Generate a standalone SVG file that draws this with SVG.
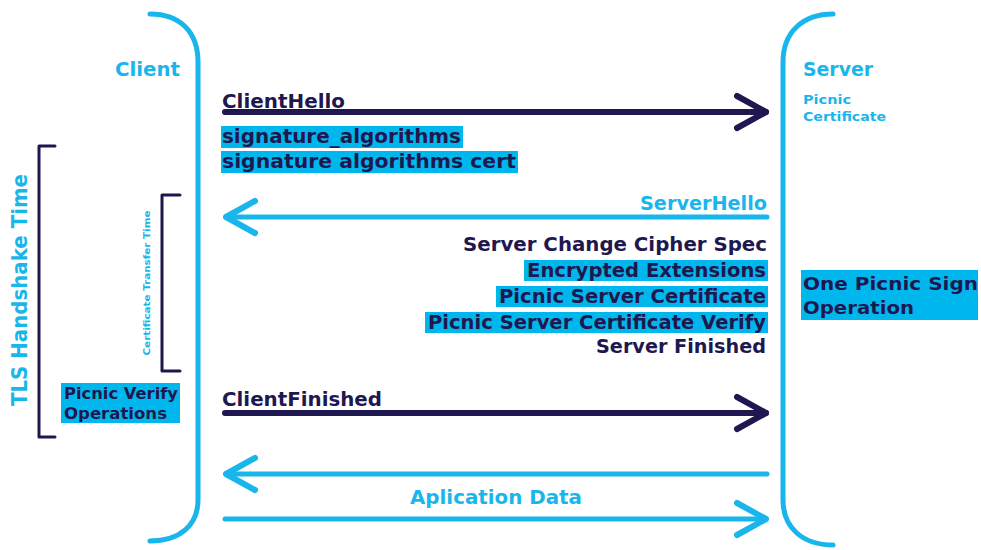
<svg xmlns="http://www.w3.org/2000/svg" width="981" height="550" viewBox="0 0 981 550">
<style>
  .t{font-family:"DejaVu Sans","Liberation Sans",sans-serif;font-weight:bold}
  .navy{fill:#1f174f}
  .blue{fill:#19b6ec}
  .hl{fill:#00b7ed}
  .ln{fill:none;stroke-linecap:round;stroke-linejoin:round}
  .nav{stroke:#1f174f}
  .blu{stroke:#19b6ec}
</style>
<defs>
  <marker id="ahN" markerUnits="userSpaceOnUse" viewBox="-36 -22 42 44" markerWidth="42" markerHeight="44" refX="0" refY="0" orient="auto">
    <path d="M-29,-16 L0,0 L-29,16" fill="none" stroke="#1f174f" stroke-width="6" stroke-linecap="round" stroke-linejoin="round"/>
  </marker>
  <marker id="ahB" markerUnits="userSpaceOnUse" viewBox="-36 -22 42 44" markerWidth="42" markerHeight="44" refX="0" refY="0" orient="auto">
    <path d="M-29,-16 L0,0 L-29,16" fill="none" stroke="#19b6ec" stroke-width="6" stroke-linecap="round" stroke-linejoin="round"/>
  </marker>
</defs>
<rect width="981" height="550" fill="#ffffff"/>

<g id="client">
  <path class="ln blu" stroke-width="5" d="M150,14 C180,14 198,32 198,62 V500 C198,525 180,541 150,541"/>
  <text class="t blue" x="115" y="76" font-size="19" textLength="65" lengthAdjust="spacingAndGlyphs">Client</text>
</g>

<g id="server">
  <path class="ln blu" stroke-width="5" d="M833,14 C803,14 783,32 783,62 V500 C783,528 803,545 833,545"/>
  <text class="t blue" x="803" y="76" font-size="19" textLength="70" lengthAdjust="spacingAndGlyphs">Server</text>
  <text class="t blue" x="803" y="104" font-size="12" textLength="48" lengthAdjust="spacingAndGlyphs">Picnic</text>
  <text class="t blue" x="803" y="121" font-size="12" textLength="83" lengthAdjust="spacingAndGlyphs">Certificate</text>
</g>

<g id="sign-op">
  <rect class="hl" x="801" y="270" width="177" height="50"/>
  <text class="t navy" x="803" y="290" font-size="18" textLength="175" lengthAdjust="spacingAndGlyphs">One Picnic Sign</text>
  <text class="t navy" x="803" y="314" font-size="18" textLength="111" lengthAdjust="spacingAndGlyphs">Operation</text>
</g>

<g id="tls-handshake-time">
  <path class="ln nav" stroke-width="3" stroke-linecap="butt" d="M55,146 H39 V437 H55"/>
  <text class="t blue" transform="translate(27,290) rotate(-90)" text-anchor="middle" font-size="21" textLength="232" lengthAdjust="spacingAndGlyphs">TLS Handshake Time</text>
</g>

<g id="certificate-transfer-time">
  <path class="ln nav" stroke-width="3" stroke-linecap="butt" d="M180,195 H162 V371 H180"/>
  <text class="t blue" transform="translate(150,283) rotate(-90)" text-anchor="middle" font-size="8.5" textLength="145" lengthAdjust="spacingAndGlyphs">Certificate Transfer Time</text>
</g>

<g id="verify-op">
  <rect class="hl" x="61" y="383" width="119" height="40"/>
  <text class="t navy" x="64" y="399" font-size="16" textLength="114" lengthAdjust="spacingAndGlyphs">Picnic Verify</text>
  <text class="t navy" x="64" y="419" font-size="16" textLength="103" lengthAdjust="spacingAndGlyphs">Operations</text>
</g>

<g id="client-hello">
  <text class="t navy" x="222" y="108" font-size="19" textLength="123" lengthAdjust="spacingAndGlyphs">ClientHello</text>
  <rect class="hl" x="221" y="126" width="242" height="22"/>
  <rect class="hl" x="221" y="151" width="297" height="22"/>
  <text class="t navy" x="222" y="143" font-size="19" textLength="239" lengthAdjust="spacingAndGlyphs">signature_algorithms</text>
  <text class="t navy" x="222" y="168" font-size="19" textLength="294" lengthAdjust="spacingAndGlyphs">signature algorithms cert</text>
</g>

<g id="server-hello">
  <text class="t blue" x="767" y="210" font-size="19" text-anchor="end" textLength="127" lengthAdjust="spacingAndGlyphs">ServerHello</text>
  <rect class="hl" x="524" y="260" width="244" height="21"/>
  <rect class="hl" x="496" y="286" width="272" height="21"/>
  <rect class="hl" x="425" y="312" width="343" height="21"/>
  <text class="t navy" x="767" y="251" font-size="19" text-anchor="end" textLength="304" lengthAdjust="spacingAndGlyphs">Server Change Cipher Spec</text>
  <text class="t navy" x="766" y="277" font-size="19" text-anchor="end" textLength="239" lengthAdjust="spacingAndGlyphs">Encrypted Extensions</text>
  <text class="t navy" x="766" y="303" font-size="19" text-anchor="end" textLength="267" lengthAdjust="spacingAndGlyphs">Picnic Server Certificate</text>
  <text class="t navy" x="766" y="329" font-size="19" text-anchor="end" textLength="338" lengthAdjust="spacingAndGlyphs">Picnic Server Certificate Verify</text>
  <text class="t navy" x="766" y="353" font-size="19" text-anchor="end" textLength="170" lengthAdjust="spacingAndGlyphs">Server Finished</text>
</g>

<g id="client-finished">
  <text class="t navy" x="222" y="406" font-size="19" textLength="160" lengthAdjust="spacingAndGlyphs">ClientFinished</text>
</g>

<g id="application-data">
  <text class="t blue" x="496" y="504" font-size="19" text-anchor="middle" textLength="172" lengthAdjust="spacingAndGlyphs">Aplication Data</text>
</g>

<g id="connectors">
  <line class="ln nav" stroke-width="6" x1="225" y1="112" x2="766" y2="112" marker-end="url(#ahN)"/>
  <line class="ln blu" stroke-width="5" x1="767" y1="217" x2="226" y2="217" marker-end="url(#ahB)"/>
  <line class="ln nav" stroke-width="6" x1="225" y1="413" x2="766" y2="413" marker-end="url(#ahN)"/>
  <line class="ln blu" stroke-width="5" x1="767" y1="474" x2="226" y2="474" marker-end="url(#ahB)"/>
  <line class="ln blu" stroke-width="5" x1="225" y1="519" x2="766" y2="519" marker-end="url(#ahB)"/>
</g>
</svg>
